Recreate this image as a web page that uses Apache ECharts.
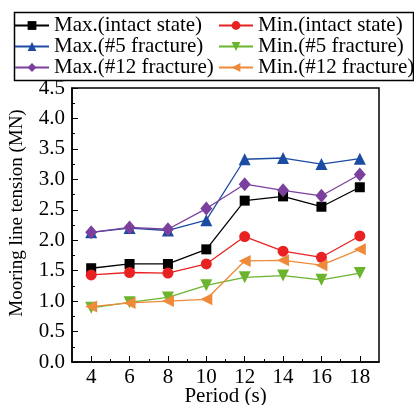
<!DOCTYPE html>
<html>
<head>
<meta charset="utf-8">
<script src="https://cdn.jsdelivr.net/npm/echarts@6/dist/echarts.min.js"></script>
<style>
  html, body { margin: 0; padding: 0; background: #fff; }
  #chart { width: 414px; height: 405px; }
</style>
</head>
<body>
<div id="chart"></div>
<script>
// 周期 (s)
const periods = [4, 6, 8, 10, 12, 14, 16, 18];
// 系泊缆张力 (MN)
const maxIntact = [1.54, 1.61, 1.61, 1.85, 2.65, 2.72, 2.55, 2.87];
const minIntact = [1.43, 1.47, 1.46, 1.61, 2.06, 1.82, 1.72, 2.07];
const max5 = [2.13, 2.20, 2.16, 2.33, 3.33, 3.35, 3.25, 3.34];
const min5 = [0.89, 0.98, 1.06, 1.26, 1.39, 1.42, 1.35, 1.46];
const max12 = [2.13, 2.21, 2.18, 2.52, 2.92, 2.82, 2.73, 3.08];
const min12 = [0.91, 0.97, 1.00, 1.03, 1.66, 1.67, 1.59, 1.85];

const xMajor = [4, 6, 8, 10, 12, 14, 16, 18];
const xMinor = [5, 7, 9, 11, 13, 15, 17];

const font = '"Liberation Serif", "Times New Roman", serif';
const fs = 21;
const pair = arr => periods.map((p, i) => [p, arr[i]]);

const chart = echarts.init(document.getElementById('chart'));

function line(name, data, color, symbol, size, rotate) {
  return {
    name, type: 'line', data: pair(data),
    symbol, symbolSize: size, symbolRotate: rotate || 0,
    lineStyle: { color, width: 1.3 },
    itemStyle: { color },
    z: 3,
  };
}

const legendText = { fontFamily: font, fontSize: fs, lineHeight: 20, color: '#000' };

chart.setOption({
  backgroundColor: '#fff',
  animation: false,
  textStyle: { fontFamily: font },
  grid: {
    left: 72, right: 35, top: 88, bottom: 43,
    outerBoundsMode: 'none', containLabel: false,
    show: true, borderColor: '#000', borderWidth: 1.5,
  },
  legend: [
    {
      orient: 'vertical', left: 14, top: 15, itemGap: 0, padding: 0,
      itemWidth: 34, itemHeight: 11, textStyle: legendText,
      data: ['Max.(intact state)', 'Max.(#5 fracture)', 'Max.(#12 fracture)'],
    },
    {
      orient: 'vertical', left: 218, top: 15, itemGap: 0, padding: 0,
      itemWidth: 34, itemHeight: 11, textStyle: legendText,
      data: ['Min.(intact state)', 'Min.(#5 fracture)', 'Min.(#12 fracture)'],
    },
  ],
  graphic: [{
    type: 'rect', left: 12, top: 10,
    shape: { width: 399, height: 68 },
    style: { fill: 'none', stroke: '#000', lineWidth: 1.5 },
  }],
  xAxis: [
    {
      type: 'value', min: 3, max: 19, interval: 1,
      name: 'Period (s)', nameLocation: 'middle', nameGap: 24, nameMoveOverlap: false,
      nameTextStyle: { fontFamily: font, fontSize: fs, color: '#000' },
      axisLine: { lineStyle: { color: '#000', width: 1.5 } },
      axisTick: { inside: true, length: 6, customValues: xMajor, lineStyle: { color: '#000' } },
      axisLabel: { margin: 5, customValues: xMajor, fontFamily: font, fontSize: fs, color: '#000' },
      splitLine: { show: false },
    },
    {
      type: 'value', min: 3, max: 19, interval: 1, position: 'bottom',
      axisLine: { show: false },
      axisTick: { inside: true, length: 3, customValues: xMinor, lineStyle: { color: '#000' } },
      axisLabel: { show: false },
      splitLine: { show: false },
    },
  ],
  yAxis: {
    type: 'value', min: 0, max: 4.5, interval: 0.5,
    name: 'Mooring line tension (MN)', nameLocation: 'middle', nameGap: 45, nameMoveOverlap: false,
    nameTextStyle: { fontFamily: font, fontSize: 19, color: '#000', padding: [0, 0, 0, 24] },
    axisLine: { show: true, lineStyle: { color: '#000', width: 1.5 } },
    axisTick: { inside: true, length: 6, lineStyle: { color: '#000' } },
    minorTick: { show: true, splitNumber: 2, length: 3, lineStyle: { color: '#000' } },
    axisLabel: { margin: 7, fontFamily: font, fontSize: fs, color: '#000', formatter: v => v.toFixed(1) },
    splitLine: { show: false },
  },
  series: [
    line('Max.(intact state)', maxIntact, '#000000', 'rect', 10),
    line('Min.(intact state)', minIntact, '#e82222', 'circle', 11),
    line('Max.(#5 fracture)', max5, '#1c4ca2', 'triangle', 12),
    line('Min.(#5 fracture)', min5, '#6ab42e', 'triangle', 12, 180),
    line('Max.(#12 fracture)', max12, '#7b3f9e', 'diamond', [12, 14]),
    line('Min.(#12 fracture)', min12, '#ee8a3a', 'triangle', 12, 90),
  ],
});

window.addEventListener('resize', () => chart.resize());
</script>
</body>
</html>
